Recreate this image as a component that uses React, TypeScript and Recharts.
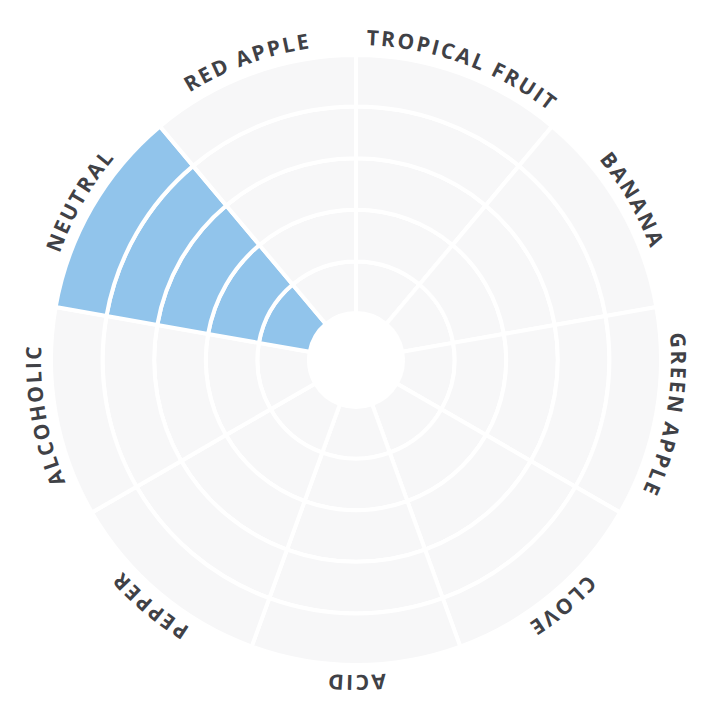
import { Cell, Pie, PieChart } from "recharts";

const categories = [
  "TROPICAL FRUIT",
  "BANANA",
  "GREEN APPLE",
  "CLOVE",
  "ACID",
  "PEPPER",
  "ALCOHOLIC",
  "NEUTRAL",
  "RED APPLE"
];
const scores = [0, 0, 0, 0, 0, 0, 0, 5, 0];
const levels = [1, 2, 3, 4, 5];

const CX = 348;
const CY = 352;
const INNER = 47;
const OUTER = 305;
const STEP = (OUTER - INNER) / levels.length;
const LABEL_R = 315;
const RAD = Math.PI / 180;

const point = (angle: number, r: number) =>
  `${CX + r * Math.cos(angle * RAD)} ${CY - r * Math.sin(angle * RAD)}`;

function CurvedLabel(props: any) {
  const { midAngle, index } = props;
  const name = props.name ?? props.payload?.name;
  const id = `arc-label-${index}`;
  // clockwise arc so every label follows the rim the same way
  const d = `M ${point(midAngle + 60, LABEL_R)} A ${LABEL_R} ${LABEL_R} 0 0 1 ${point(
    midAngle - 60,
    LABEL_R
  )}`;
  return (
    <g>
      <path id={id} d={d} fill="none" stroke="none" />
      <text
        fill="#404146"
        fontSize={21}
        fontWeight={700}
        letterSpacing={2.2}
        fontFamily="'Open Sans', sans-serif"
      >
        <textPath href={`#${id}`} startOffset="50%" textAnchor="middle">
          {name}
        </textPath>
      </text>
    </g>
  );
}

export default function App() {
  return (
    <PieChart width={695} height={695} margin={{ top: 0, right: 0, bottom: 0, left: 0 }}>
      {levels.map((level, li) => (
        <Pie
          key={level}
          data={categories.map((name, i) => ({ name, slot: 1, score: scores[i] }))}
          dataKey="slot"
          nameKey="name"
          cx={CX}
          cy={CY}
          innerRadius={INNER + li * STEP}
          outerRadius={INNER + (li + 1) * STEP}
          startAngle={90}
          endAngle={-270}
          stroke="#ffffff"
          strokeWidth={4}
          isAnimationActive={false}
          labelLine={false}
          label={li === levels.length - 1 ? CurvedLabel : false}
        >
          {categories.map((name, i) => (
            <Cell key={name} fill={scores[i] >= level ? "#91c4eb" : "#f7f7f8"} />
          ))}
        </Pie>
      ))}
    </PieChart>
  );
}
